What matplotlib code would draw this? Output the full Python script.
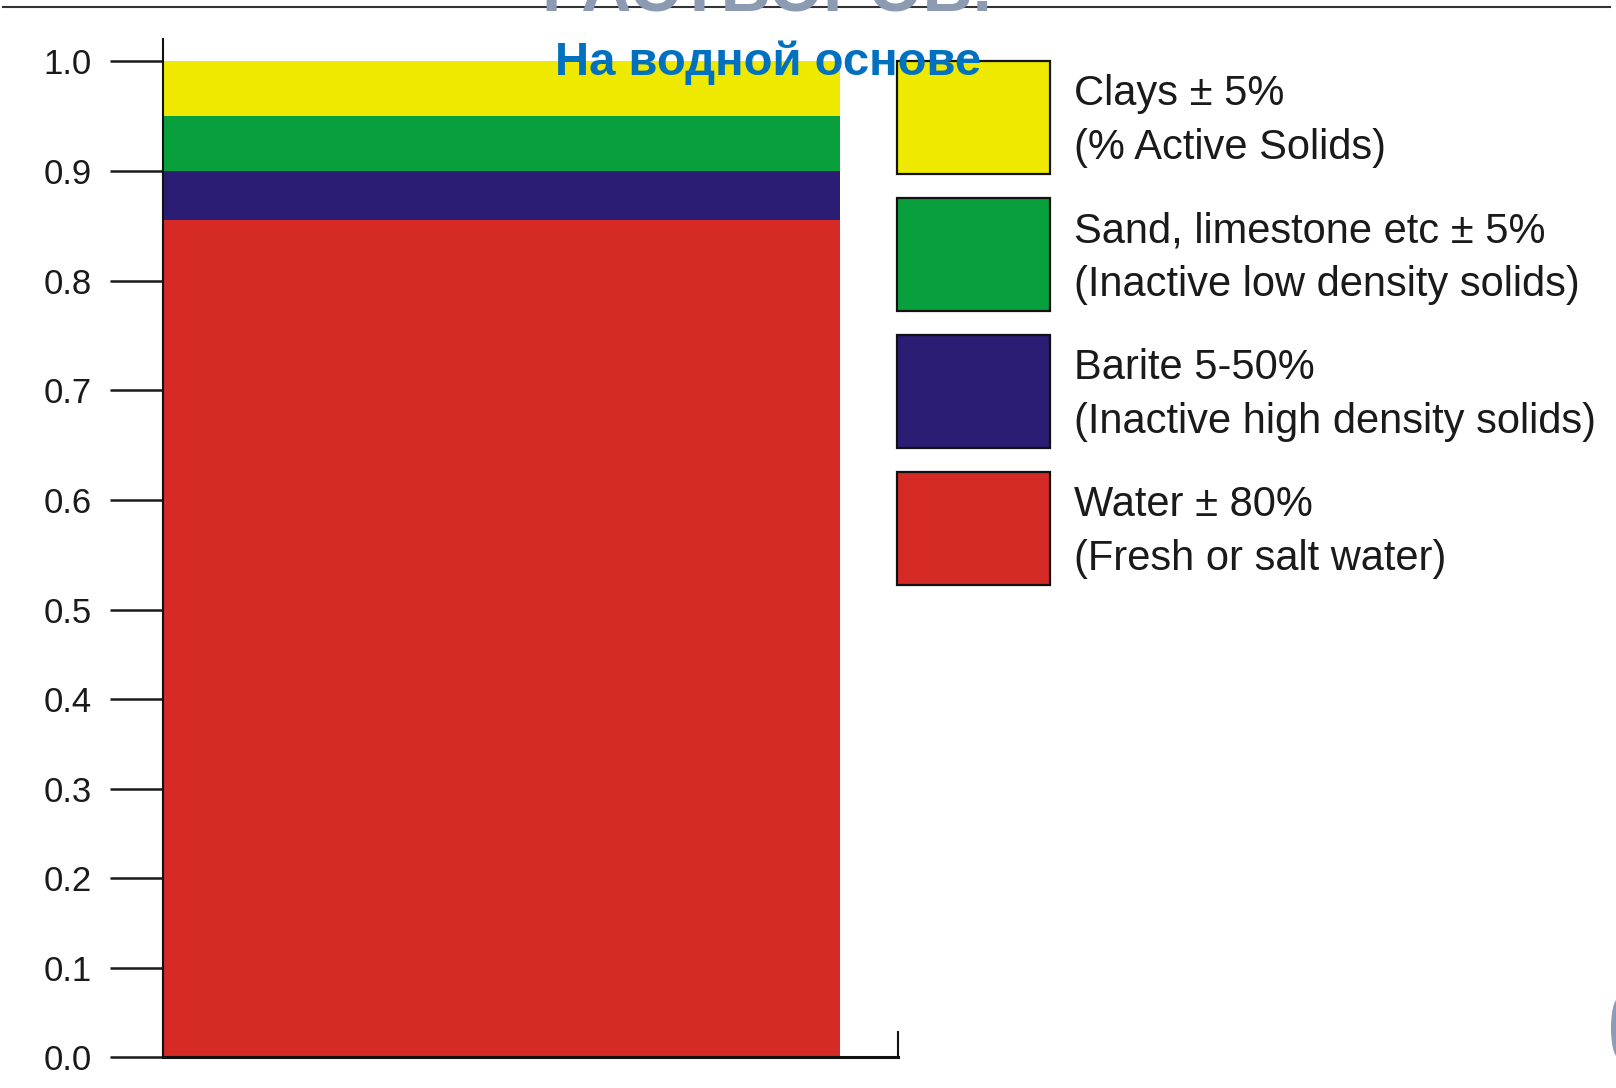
import numpy as np
import matplotlib
matplotlib.use("Agg")
import matplotlib.pyplot as plt
import matplotlib.patches as mpatches
import matplotlib.transforms as mtransforms
from matplotlib.lines import Line2D

plt.rcParams["font.family"] = ["Liberation Sans", "DejaVu Sans"]

# volume fractions of a water based mud, bottom to top
components = ["Water", "Barite", "Sand, limestone etc", "Clays"]
fractions = [0.855, 0.045, 0.05, 0.05]
legend_labels = [
    "Water ± 80%\n(Fresh or salt water)",
    "Barite 5-50%\n(Inactive high density solids)",
    "Sand, limestone etc ± 5%\n(Inactive low density solids)",
    "Clays ± 5%\n(% Active Solids)",
]
colors = ["#d62a26", "#2b1c74", "#07a03d", "#efe900"]
yticks = np.round(np.arange(0, 1.01, 0.1), 1)
ytick_labels = [f"{v:.1f}" for v in yticks]


# the scanned axis is stretched above 0.5
def fwd(y):
    y = np.asarray(y, dtype=float)
    return np.where(y <= 0.5, y * 0.894, 0.447 + (y - 0.5) * 1.098)


def inv(t):
    t = np.asarray(t, dtype=float)
    return np.where(t <= 0.447, t / 0.894, 0.5 + (t - 0.447) / 1.098)


W, H = 1616, 1088
fig = plt.figure(figsize=(W / 100, H / 100), dpi=100)
ax = fig.add_axes([163 / W, (H - 1057) / H, (898 - 163) / W, (1057 - 39) / H])
ax.set_yscale("function", functions=(fwd, inv))

bottom = 0.0
for frac, col in zip(fractions, colors):
    ax.bar(0, frac, width=1.0, bottom=bottom, align="edge", color=col, lw=0, zorder=1)
    bottom += frac

ax.set_xlim(0, 735 / 677)
ax.set_ylim(0, 1.02)
ax.set_yticks(yticks)
ax.set_yticklabels(ytick_labels)
ax.set_xticks([])
ax.minorticks_off()
ax.tick_params(axis="y", direction="out", length=38, width=1.8, pad=13.5,
               labelsize=25, colors="#1a1a1a")

ax.spines["top"].set_visible(False)
ax.spines["left"].set_linewidth(1.5)
ax.spines["bottom"].set_linewidth(2.2)
ax.spines["right"].set_linewidth(1.5)
ax.spines["right"].set_bounds(0, 0.028)
for s in ax.spines.values():
    s.set_color("#111111")

# legend, top entry first
handles = [mpatches.Patch(facecolor=c, edgecolor="#111111", lw=1.6, label=l)
           for c, l in zip(colors, legend_labels)][::-1]
leg = ax.legend(handles=handles, loc="upper left",
                bbox_to_anchor=(897 / W, 1 - 61 / H), bbox_transform=fig.transFigure,
                frameon=False, fontsize=30, borderpad=0, borderaxespad=0,
                handlelength=3.67, handleheight=3.79, handletextpad=0.58,
                labelspacing=0.58)
shift = mtransforms.ScaledTranslation(0, -8 / 100, fig.dpi_scale_trans)
for t in leg.get_texts():
    t.set_color("#1a1a1a")
    t.set_linespacing(1.45)
    t.set_transform(t.get_transform() + shift)

# slide header remnants
fig.add_artist(Line2D([3 / W, 1610 / W], [1 - 7 / H, 1 - 7 / H], color="#333333", lw=1.5))
fig.text(767 / W, 1 - 12 / H, "РАСТВОРОВ.", ha="center", va="baseline",
         fontsize=50, fontweight="bold", color="#8c9bb2")
fig.text(768 / W, 1 - 75 / H, "На водной основе", ha="center", va="baseline",
         fontsize=34, fontweight="bold", color="#0070c0")
fig.add_artist(mpatches.Ellipse((1 + 2 / W, 1 - 1028 / H), 14 / W, 58 / H,
                                transform=fig.transFigure, color="#8d9bb3", lw=0))

fig.savefig("out.png", dpi=100)
